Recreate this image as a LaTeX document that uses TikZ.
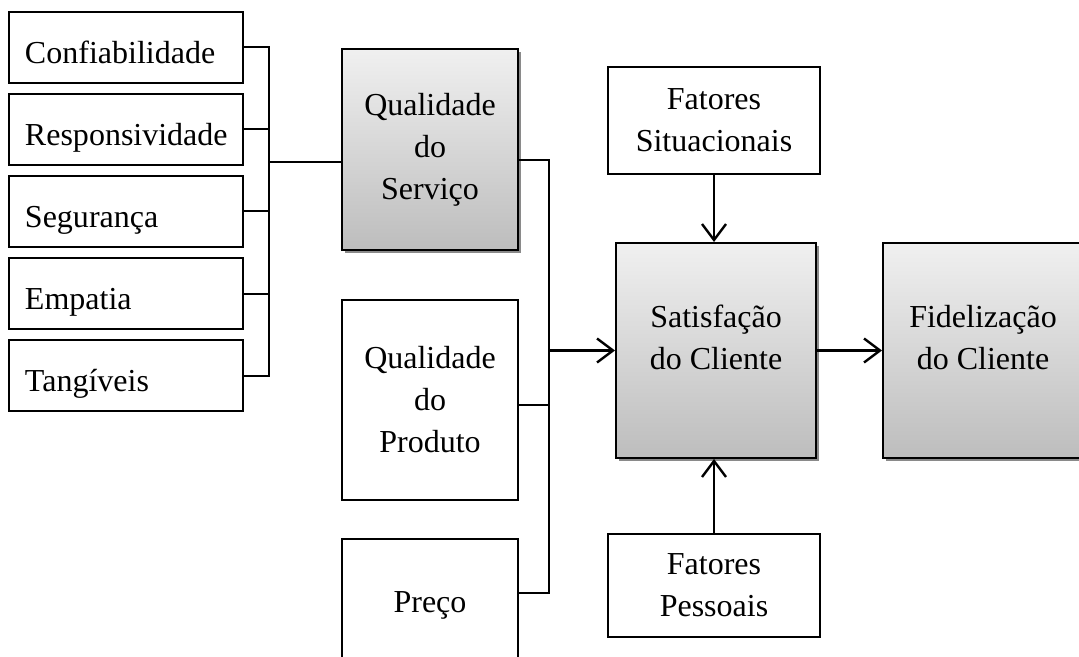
\documentclass[tikz,border=0pt]{standalone}
\usepackage{fontspec}
\setmainfont{Liberation Serif}
\usepackage{xcolor}
\usepackage{tikz}
\usetikzlibrary{arrows.meta, positioning, shadows}
\definecolor{box-top}{HTML}{F0F0F0}
\definecolor{box-bottom}{HTML}{BDBDBD}
\definecolor{box-shadow}{HTML}{8A8A8A}

\begin{document}
\begin{tikzpicture}[
			x=0.5pt, y=-0.5pt,
			base/.style={
				draw=black, line width=1pt, inner sep=0pt,
				font=\fontsize{16}{21}\selectfont
			},
			dimension/.style={
				base, text width=101pt, inner xsep=8pt, align=left,
				minimum height=35.5pt, text height=16pt, text depth=0pt
			},
			block/.style={base, align=center},
			shaded/.style={
				block, top color=box-top, bottom color=box-bottom,
				drop shadow={shadow xshift=1.6pt, shadow yshift=-1.6pt, fill=box-shadow, opacity=1}
			},
			caption/.style={block, draw=none, yshift=6.5pt},
			link/.style={line width=1pt},
			flow/.style={line width=1.2pt, -{Straight Barb[length=8pt,width=12pt,line width=1.2pt]}},
			node distance=4.5pt
			]
			\useasboundingbox (0,0) rectangle (1079,657);
			\node[dimension] (conf) at (126,47.5) {Confiabilidade};
			\node[dimension, below=of conf] (resp) {Responsividade};
			\node[dimension, below=of resp] (seg) {Segurança};
			\node[dimension, below=of seg] (emp) {Empatia};
			\node[dimension, below=of emp] (tang) {Tangíveis};

			\node[shaded, minimum width=88pt, minimum height=100.5pt] (serv) at (430,149.5) {Qualidade\\do\\Serviço};
			\node[block, minimum width=88pt, minimum height=100pt] (prod) at (430,400) {Qualidade\\do\\Produto};
			\node[block, minimum width=88pt, minimum height=66pt] (preco) at (430,605) {Preço};

			\node[block, minimum width=106pt, minimum height=53.5pt] (sit) at (714,120.5) {Fatores\\Situacionais};
			\node[shaded, minimum width=100pt, minimum height=107.5pt,
				label={[caption]center:Satisfação\\do Cliente}] (sat) at (716,350.5) {};
			\node[shaded, minimum width=100pt, minimum height=107.5pt,
				label={[caption]center:Fidelização\\do Cliente}] (fid) at (983,350.5) {};
			\node[block, minimum width=106pt, minimum height=51.5pt] (pes) at (714,585.5) {Fatores\\Pessoais};

			\coordinate (lbus) at (269,162);
			\foreach \n in {conf,resp,seg,emp,tang}
				\draw[link] (\n.east) -| (lbus);
			\draw[link] (lbus) -- (lbus -| serv.west);

			\coordinate (rbus) at (549,350.5);
			\draw[link] ([yshift=-5.5pt]serv.east) -| (rbus);
			\draw[link] ([yshift=-2.5pt]prod.east) -| (rbus);
			\draw[link] ([yshift=6pt]preco.east) -| (rbus);
			\draw[flow] (rbus) -- (sat.west);

			\draw[flow] (sat.east) -- (fid.west);
			\draw[flow] (sit.south) -- (sit.south |- sat.north);
			\draw[flow] (pes.north) -- (pes.north |- sat.south);
		\end{tikzpicture}
\end{document}
